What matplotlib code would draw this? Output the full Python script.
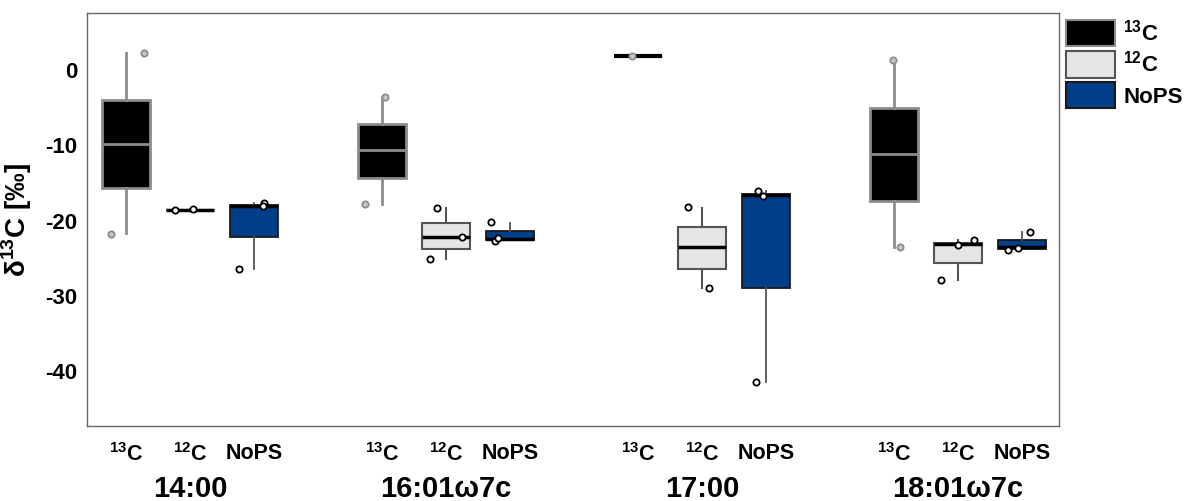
import matplotlib
matplotlib.use("Agg")
import matplotlib.pyplot as plt
import matplotlib.transforms as mtransforms
from matplotlib.patches import Patch

plt.rcParams['font.family'] = ['Liberation Sans', 'DejaVu Sans']
plt.rcParams['font.weight'] = 'bold'
plt.rcParams['axes.unicode_minus'] = False
plt.rcParams['mathtext.fontset'] = 'custom'
plt.rcParams['mathtext.rm'] = 'Liberation Sans:bold'
plt.rcParams['mathtext.bf'] = 'Liberation Sans:bold'

groups = ["14:00", "16:01ω7c", "17:00", "18:01ω7c"]
treatments = [r"$^{13}$C", r"$^{12}$C", "NoPS"]

# box stats per group: [whisker low, q1, median, q3, whisker high]
c13_box = [[-21.7, -15.7, -9.75, -3.9, 2.3],
           [-17.8, -14.3, -10.6, -7.1, -3.5],
           [1.9, 1.9, 1.9, 1.9, 1.9],
           [-23.5, -17.4, -11.1, -5.0, 1.3]]
c12_box = [[-18.6, -18.6, -18.6, -18.55, -18.5],
           [-25.1, -23.8, -22.2, -20.3, -18.3],
           [-28.9, -26.4, -23.5, -20.9, -18.3],
           [-27.9, -25.6, -23.1, -23.0, -22.6]]
nops_box = [[-26.4, -22.2, -18.0, -17.9, -17.6],
            [-22.6, -22.6, -22.4, -21.4, -20.3],
            [-41.4, -29.0, -16.6, -16.4, -16.0],
            [-23.8, -23.8, -23.5, -22.6, -21.5]]

# single measurements shown on top of the boxes
c13_pts = [[2.3, -21.8], [-3.5, -17.8], [1.9], [1.3, -23.5]]
c12_pts = [[-18.6, -18.5], [-18.3, -22.2, -25.1], [-18.2, -29.0], [-22.6, -23.3, -27.9]]
nops_pts = [[-26.4, -17.6, -18.1], [-20.2, -22.7, -22.3], [-16.0, -16.7, -41.4], [-21.5, -23.9, -23.6]]

# horizontal jitter of the points
c13_jit = [[0.28, -0.23], [0.05, -0.27], [-0.09], [-0.02, 0.09]]
c12_jit = [[-0.23, 0.05], [-0.14, 0.25, -0.25], [-0.22, 0.11], [0.25, 0.0, -0.27]]
nops_jit = [[-0.23, 0.16, 0.14], [-0.30, -0.23, -0.19], [-0.12, -0.05, -0.16], [0.12, -0.22, -0.06]]

styles = [
    dict(face='black', edge='#8c8c8c', med='#8c8c8c', whisk='#8c8c8c', lw=2.0,
         pt_edge='#8c8c8c', pt_face='#c8c8c8'),
    dict(face='#e5e5e5', edge='#555555', med='black', whisk='#555555', lw=1.5,
         pt_edge='black', pt_face='white'),
    dict(face='#003f87', edge='#1a1a1a', med='black', whisk='#555555', lw=1.3,
         pt_edge='black', pt_face='white'),
]

fig, ax = plt.subplots(figsize=(11.84, 5.01), dpi=100)
fig.subplots_adjust(left=87 / 1184, right=1059 / 1184, top=1 - 13 / 501, bottom=1 - 426 / 501)

all_box = [c13_box, c12_box, nops_box]
all_pts = [c13_pts, c12_pts, nops_pts]
all_jit = [c13_jit, c12_jit, nops_jit]

ticks = []
for k, (boxes, pts, jit, st) in enumerate(zip(all_box, all_pts, all_jit, styles)):
    stats = []
    pos = []
    for g, b in enumerate(boxes):
        stats.append(dict(whislo=b[0], q1=b[1], med=b[2], q3=b[3], whishi=b[4], fliers=[]))
        pos.append(4 * g + k - 1)
    art = ax.bxp(stats, positions=pos, widths=0.75, patch_artist=True, showcaps=False,
                 showfliers=False,
                 boxprops=dict(facecolor=st['face'], edgecolor=st['edge'], linewidth=st['lw']),
                 whiskerprops=dict(color=st['whisk'], linewidth=st['lw']),
                 medianprops=dict(color=st['med'], linewidth=2.5 if st['med'] == 'black' else 2.0))
    if k == 0:
        # collapsed box at 17:00 shows as a black bar
        art['medians'][2].set_color('black')
        art['medians'][2].set_linewidth(3)
    for g in range(len(groups)):
        xs = [pos[g] + j for j in jit[g]]
        ax.plot(xs, pts[g], 'o', ms=4.5, mfc=st['pt_face'], mec=st['pt_edge'], mew=1.3,
                linestyle='none', zorder=4)
    ticks += pos

order = sorted(range(len(ticks)), key=lambda i: ticks[i])
tick_pos = [ticks[i] for i in order]
tick_lab = [treatments[i // len(groups)] for i in order]
ax.set_xticks(tick_pos, tick_lab, fontsize=15.5, fontweight='bold')
ax.tick_params(axis='x', length=0, pad=12)
ax.tick_params(axis='y', length=0, pad=7, labelsize=16)
ax.set_yticks([0, -10, -20, -30, -40])
for t in ax.get_yticklabels():
    t.set_fontweight('bold')

ax.set_xlim(-1.61, 13.58)
ax.set_ylim(-47.3, 7.6)
ax.set_ylabel(r'δ$^{13}$C [‰]', fontsize=20, fontweight='bold', labelpad=8)

trans = mtransforms.blended_transform_factory(ax.transData, ax.transAxes)
for g, name in enumerate(groups):
    ax.text(4 * g, -0.171, name, transform=trans, ha='center', va='baseline',
            fontsize=21, fontweight='bold')

for s in ax.spines.values():
    s.set_color('#666666')
    s.set_linewidth(1.0)

handles = [Patch(facecolor=st['face'], edgecolor=st['edge'], linewidth=1.5) for st in styles]
ax.legend(handles, treatments, loc='upper left', bbox_to_anchor=(1.0, 1.0), frameon=False,
          prop=dict(size=16, weight='bold'), handlelength=2.2, handleheight=1.45,
          labelspacing=0.2, borderaxespad=0.3, borderpad=0.0, handletextpad=0.4)

fig.savefig('out.png', dpi=100)
